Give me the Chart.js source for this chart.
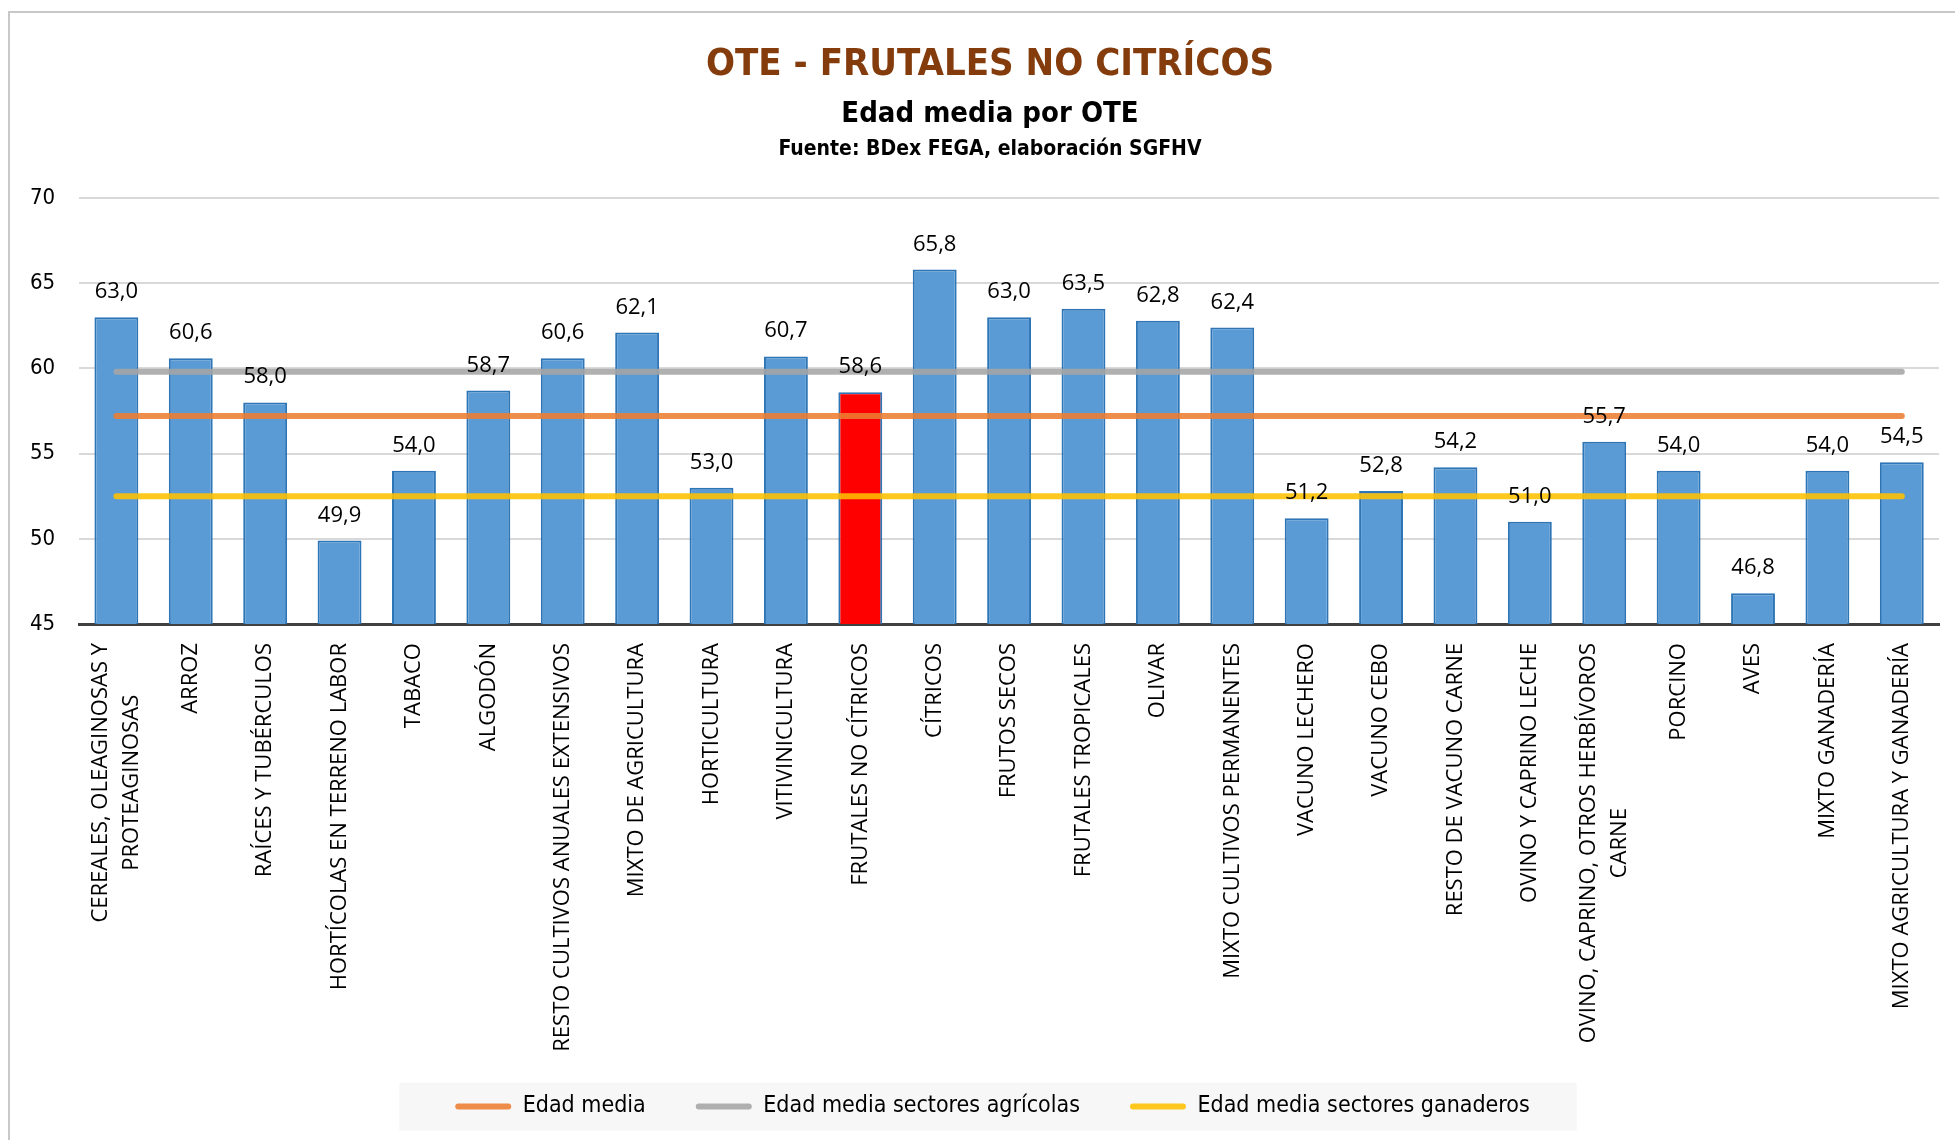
<!DOCTYPE html>
<html>
<head>
<meta charset="utf-8">
<script src="https://cdn.jsdelivr.net/npm/chart.js@4.4.1/dist/chart.umd.min.js"></script>
<style>
  html, body { margin: 0; padding: 0; background: #fff; }
  #wrap { position: relative; width: 1955px; height: 1140px; }
</style>
</head>
<body>
<div id="wrap"><canvas id="grafico"></canvas></div>
<script>
// datos del gráfico
const categorias = [
  ['CEREALES, OLEAGINOSAS Y', 'PROTEAGINOSAS'],
  'ARROZ',
  'RAÍCES Y TUBÉRCULOS',
  'HORTÍCOLAS EN TERRENO LABOR',
  'TABACO',
  'ALGODÓN',
  'RESTO CULTIVOS ANUALES EXTENSIVOS',
  'MIXTO DE AGRICULTURA',
  'HORTICULTURA',
  'VITIVINICULTURA',
  'FRUTALES NO CÍTRICOS',
  'CÍTRICOS',
  'FRUTOS SECOS',
  'FRUTALES TROPICALES',
  'OLIVAR',
  'MIXTO CULTIVOS PERMANENTES',
  'VACUNO LECHERO',
  'VACUNO CEBO',
  'RESTO DE VACUNO CARNE',
  'OVINO Y CAPRINO LECHE',
  ['OVINO, CAPRINO, OTROS HERBÍVOROS', 'CARNE'],
  'PORCINO',
  'AVES',
  'MIXTO GANADERÍA',
  'MIXTO AGRICULTURA Y GANADERÍA'
];
const edades = [63.0, 60.6, 58.0, 49.9, 54.0, 58.7, 60.6, 62.1, 53.0, 60.7, 58.6, 65.8, 63.0,
                63.5, 62.8, 62.4, 51.2, 52.8, 54.2, 51.0, 55.7, 54.0, 46.8, 54.0, 54.5];
const destacado = 'FRUTALES NO CÍTRICOS';

// medias (líneas horizontales)
const edadMedia = 57.2;
const edadAgricola = 59.8;
const edadGanadera = 52.5;

// eje y
const ejeMin = 45;
const ejeMax = 70;
const ejePaso = 5;

const fuenteCond = "'DejaVu Sans Condensed', 'DejaVu Sans', sans-serif";
const fuenteNormal = "'Open Sans', sans-serif";

const fmt = v => v.toFixed(1).replace('.', ',');

// marco, cabecera y fondo de la leyenda
const decoracion = {
  id: 'decoracion',
  afterLayout(chart) {
    // la leyenda va algo desplazada a la derecha
    if (chart.legend) {
      chart.legend.left += 20;
      chart.legend.right += 20;
    }
  },
  beforeDraw(chart) {
    const ctx = chart.ctx;
    ctx.save();
    ctx.strokeStyle = '#c8c8c8';
    ctx.lineWidth = 2;
    ctx.beginPath();
    ctx.moveTo(9, 1140);
    ctx.lineTo(9, 12);
    ctx.lineTo(1955, 12);
    ctx.stroke();

    const cx = 990;
    ctx.textAlign = 'center';
    ctx.textBaseline = 'middle';
    ctx.fillStyle = '#843C0C';
    ctx.font = 'bold 38px ' + fuenteCond;
    ctx.fillText('OTE - FRUTALES NO CITRÍCOS', cx, 65);
    ctx.fillStyle = '#000';
    ctx.font = 'bold 29px ' + fuenteCond;
    ctx.fillText('Edad media por OTE', cx, 114);
    ctx.font = 'bold 21px ' + fuenteCond;
    ctx.fillText('Fuente: BDex FEGA, elaboración SGFHV', cx, 150);

    // fondo leyenda
    const lg = chart.legend;
    if (lg && lg.legendHitBoxes && lg.legendHitBoxes.length) {
      const hb = lg.legendHitBoxes;
      const l = Math.min(...hb.map(h => h.left)) - 56;
      const r = Math.max(...hb.map(h => h.left + h.width)) + 47;
      const mid = hb[0].top + hb[0].height / 2;
      ctx.fillStyle = '#f7f7f7';
      ctx.fillRect(l, mid - 24, r - l, 48);
    }
    ctx.restore();
  }
};

// etiquetas del eje x (giradas, líneas centradas) y valores sobre las barras
const etiquetas = {
  id: 'etiquetas',
  afterDatasetsDraw(chart) {
    const ctx = chart.ctx;
    const meta = chart.getDatasetMeta(0);
    ctx.save();
    ctx.fillStyle = '#000';
    ctx.font = '22px ' + fuenteNormal;
    ctx.textAlign = 'center';
    ctx.textBaseline = 'alphabetic';
    meta.data.forEach((el, i) => {
      ctx.fillText(fmt(edades[i]), el.x, el.y - 19);
    });

    const xs = chart.scales.x;
    const top = xs.top + 19;
    const lh = 31;
    ctx.font = '22px ' + fuenteNormal;
    ctx.textBaseline = 'middle';
    categorias.forEach((c, i) => {
      const lineas = Array.isArray(c) ? c : [c];
      const w = Math.max(...lineas.map(t => ctx.measureText(t).width));
      const x = xs.getPixelForValue(i);
      ctx.save();
      ctx.translate(x, top);
      ctx.rotate(-Math.PI / 2);
      lineas.forEach((t, j) => {
        ctx.fillText(t, -w / 2, (j - (lineas.length - 1) / 2) * lh);
      });
      ctx.restore();
    });
    ctx.restore();
  }
};

const lineaDataset = (label, valor, color) => ({
  type: 'line',
  label: label,
  data: categorias.map(() => valor),
  borderColor: color,
  backgroundColor: color,
  borderWidth: 6,
  borderCapStyle: 'round',
  pointRadius: 0,
  pointHoverRadius: 0,
  order: 1
});

const ctx = document.getElementById('grafico').getContext('2d');
const chart = new Chart(ctx, {
  data: {
    labels: categorias,
    datasets: [
      {
        type: 'bar',
        label: 'Edad media por OTE',
        data: edades,
        backgroundColor: categorias.map(c => c === destacado ? '#FF0000' : '#5B9BD5'),
        borderColor: '#2E75B6',
        borderWidth: 2,
        barPercentage: 0.59,
        categoryPercentage: 1,
        order: 10
      },
      lineaDataset('Edad media', edadMedia, 'rgba(237,125,49,0.88)'),
      lineaDataset('Edad media sectores agrícolas', edadAgricola, 'rgba(165,165,165,0.88)'),
      lineaDataset('Edad media sectores ganaderos', edadGanadera, 'rgba(255,192,0,0.88)')
    ]
  },
  options: {
    responsive: true,
    maintainAspectRatio: false,
    animation: false,
    layout: { padding: { top: 198, left: 6, right: 16, bottom: 12 } },
    scales: {
      x: {
        grid: { display: false },
        border: { display: true, color: '#404040', width: 3 },
        ticks: {
          color: 'rgba(0,0,0,0)',
          font: { family: fuenteNormal, size: 19 },
          maxRotation: 90,
          minRotation: 90,
          padding: 19
        },
        afterFit: s => { s.height += 22; }
      },
      y: {
        min: ejeMin,
        max: ejeMax,
        grid: { color: '#d9d9d9', lineWidth: 2, drawTicks: false },
        border: { display: false },
        ticks: {
          stepSize: ejePaso,
          color: '#000',
          padding: 24,
          font: { family: fuenteCond, size: 22 }
        }
      }
    },
    plugins: {
      title: { display: false },
      tooltip: { enabled: false },
      legend: {
        position: 'bottom',
        labels: {
          filter: item => item.datasetIndex > 0,
          boxWidth: 56,
          boxHeight: 6,
          useBorderRadius: true,
          borderRadius: 3,
          padding: 50,
          color: '#000',
          font: { family: fuenteCond, size: 23 },
          generateLabels: chart => {
            const items = Chart.defaults.plugins.legend.labels.generateLabels(chart);
            items.forEach(it => { it.lineWidth = 0; it.fillStyle = it.strokeStyle; });
            return items;
          }
        }
      }
    }
  },
  plugins: [decoracion, etiquetas]
});
</script>
</body>
</html>
